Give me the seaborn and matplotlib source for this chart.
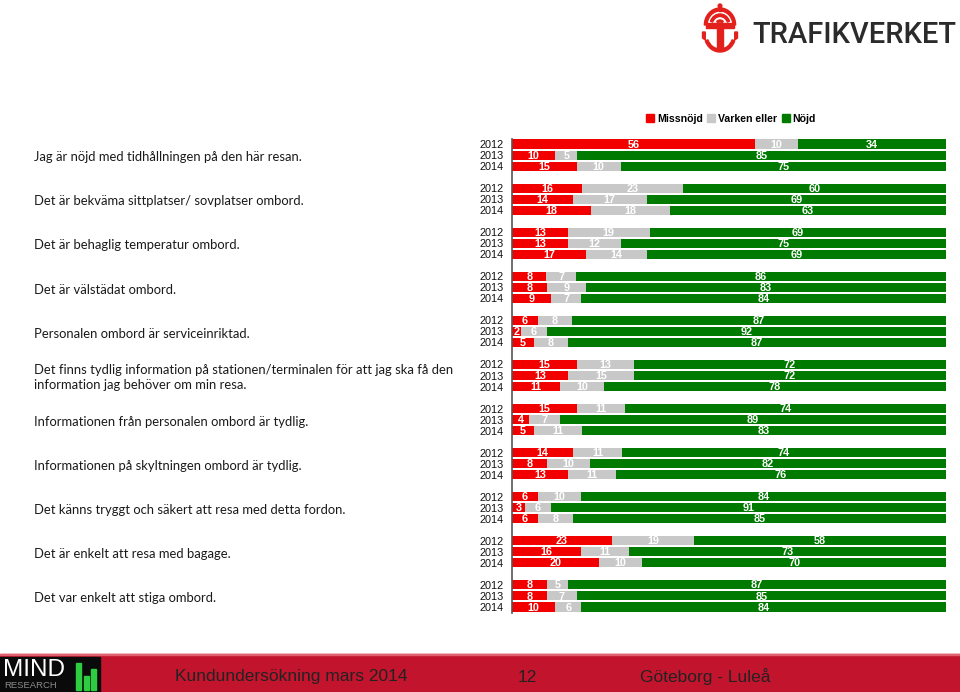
import numpy as np
import pandas as pd
import matplotlib
matplotlib.use("Agg")
import matplotlib.pyplot as plt
import matplotlib.transforms as mtransforms
from matplotlib.patches import Rectangle, Wedge, Polygon, Circle
import seaborn as sns

# ---------------- data ----------------
questions = [
    "Jag är nöjd med tidhållningen på den här resan.",
    "Det är bekväma sittplatser/ sovplatser ombord.",
    "Det är behaglig temperatur ombord.",
    "Det är välstädat ombord.",
    "Personalen ombord är serviceinriktad.",
    "Det finns tydlig information på stationen/terminalen för att jag ska få den\ninformation jag behöver om min resa.",
    "Informationen från personalen ombord är tydlig.",
    "Informationen på skyltningen ombord är tydlig.",
    "Det känns tryggt och säkert att resa med detta fordon.",
    "Det är enkelt att resa med bagage.",
    "Det var enkelt att stiga ombord.",
]
years = ["2012", "2013", "2014"]
series = ["Missnöjd", "Varken eller", "Nöjd"]

missnojd = [56, 10, 15,  16, 14, 18,  13, 13, 17,  8, 8, 9,  6, 2, 5,
            15, 13, 11,  15, 4, 5,  14, 8, 13,  6, 3, 6,  23, 16, 20,  8, 8, 10]
varken   = [10, 5, 10,  23, 17, 18,  19, 12, 14,  7, 9, 7,  8, 6, 8,
            13, 15, 10,  11, 7, 11,  11, 10, 11,  10, 6, 8,  19, 11, 10,  5, 7, 6]
nojd     = [34, 85, 75,  60, 69, 63,  69, 75, 69,  86, 83, 84,  87, 92, 87,
            72, 72, 78,  74, 89, 83,  74, 82, 76,  84, 91, 85,  58, 73, 70,  87, 85, 84]

RED = "#F20000"
GRAY = "#C8C8C8"
GREEN = "#007A00"
FOOT = "#C3142D"

# ---------------- frame ----------------
rows = []
order = []
for qi, q in enumerate(questions):
    for yi, yr in enumerate(years):
        k = qi * 3 + yi
        key = f"q{qi}_{yr}"
        order.append(key)
        tot = missnojd[k] + varken[k] + nojd[k]
        m = missnojd[k] / tot * 100
        v = varken[k] / tot * 100
        rows.append(dict(row=key, q=qi, year=yr,
                         m=missnojd[k], v=varken[k], n=nojd[k],
                         c1=m, c2=m + v, c3=100.0))
    if qi < len(questions) - 1:
        order.append(f"gap{qi}")
df = pd.DataFrame(rows)

# ---------------- figure ----------------
fig = plt.figure(figsize=(9.6, 6.92), dpi=100)
W, H = 960, 692
ax = fig.add_axes([512 / W, 1 - 612.5 / H, (946 - 512) / W, (612.5 - 138.5) / H])

bw = 0.82
sns.barplot(data=df, y="row", x="c3", order=order, color=GREEN, width=bw,
            orient="h", ax=ax, saturation=1, errorbar=None)
sns.barplot(data=df, y="row", x="c2", order=order, color=GRAY, width=bw,
            orient="h", ax=ax, saturation=1, errorbar=None)
sns.barplot(data=df, y="row", x="c1", order=order, color=RED, width=bw,
            orient="h", ax=ax, saturation=1, errorbar=None)
for p in ax.patches:
    p.set_linewidth(0)

ax.set_xlim(0, 100)
ax.set_ylim(len(order) - 0.5, -0.5)
ax.set_xlabel("")
ax.set_ylabel("")
ax.set_xticks([])
ax.set_yticks(range(len(order)))
ax.set_yticklabels([r.split("_")[1] if r.startswith("q") else "" for r in order],
                   fontfamily="Liberation Sans", fontsize=7.8, color="#111111")
ax.tick_params(axis="y", length=0, pad=6)
for s in ["top", "right", "bottom"]:
    ax.spines[s].set_visible(False)
ax.spines["left"].set_color("#555555")
ax.spines["left"].set_linewidth(1.2)
ax.set_facecolor("none")

# value labels
pos = {r: i for i, r in enumerate(order)}
for _, r in df.iterrows():
    yy = pos[r["row"]]
    segs = [(0, r["c1"], r["m"]), (r["c1"], r["c2"], r["v"]), (r["c2"], r["c3"], r["n"])]
    for a, b, val in segs:
        ax.text((a + b) / 2, yy + 0.05, f"{int(val)}", ha="center", va="center",
                color="white", fontsize=7.8, fontweight="bold",
                fontfamily="Liberation Sans")

# question labels
tr = mtransforms.blended_transform_factory(fig.transFigure, ax.transData)
for qi, q in enumerate(questions):
    ax.text(34 / W, qi * 4 + 1.2, q, transform=tr, ha="left", va="center",
            fontsize=9.4, fontfamily="Lato", color="#1a1a1a", linespacing=1.35,
            clip_on=False)

# legend
handles = [Rectangle((0, 0), 1, 1, color=c) for c in (RED, GRAY, GREEN)]
fig.legend(handles, series, loc="center", bbox_to_anchor=(731 / W, 1 - 119 / H),
           ncol=3, frameon=False, handlelength=0.75, handleheight=0.75,
           handletextpad=0.25, columnspacing=0.45,
           prop=dict(family="Liberation Sans", size=7.6, weight="bold"))

# ---------------- footer ----------------
fig.patches.append(Rectangle((0, 0), 1, 1 - 654 / H, transform=fig.transFigure,
                             color=FOOT, zorder=0))
fig.patches.append(Rectangle((0, 1 - 655 / H), 1, 1.5 / H, transform=fig.transFigure,
                             color="#E06070", zorder=1))
fig.text(175 / W, 1 - 677 / H, "Kundundersökning mars 2014", fontsize=12.5,
         fontfamily="Liberation Sans", color="#222222", va="center", ha="left")
fig.text(527 / W, 1 - 677 / H, "12", fontsize=12.5, fontfamily="Liberation Sans",
         color="#222222", va="center", ha="center")
fig.text(640 / W, 1 - 677 / H, "Göteborg - Luleå", fontsize=12.5,
         fontfamily="Liberation Sans", color="#222222", va="center", ha="left")

# MIND research logo
fig.patches.append(Rectangle((0, 0), 100 / W, 1 - 657 / H, transform=fig.transFigure,
                             color="#0A0A0A", zorder=2))
fig.text(3 / W, 1 - 670 / H, "MIND", fontsize=17.5, fontfamily="Liberation Sans",
         color="white", va="center", ha="left", zorder=3)
fig.text(4 / W, 1 - 686 / H, "RESEARCH", fontsize=6.8, fontfamily="Liberation Sans",
         color="#8a8a8a", va="center", ha="left", zorder=3)
for bx, btop in [(76, 663), (84, 676), (91, 669)]:
    fig.patches.append(Rectangle((bx / W, 1 - 690 / H), 5 / W, (690 - btop) / H,
                                 transform=fig.transFigure, color="#2ECC40", zorder=3))

# ---------------- Trafikverket logo ----------------
lax = fig.add_axes([697 / W, 1 - 55 / H, 46 / W, 52 / H])
lax.set_xlim(0, 50)
lax.set_ylim(0, 52)
lax.axis("off")
LR = "#E2201C"
lax.add_patch(Wedge((25, 30), 17, 0, 180, width=3, color=LR))
lax.add_patch(Wedge((25, 30), 11, 20, 160, width=2.5, color=LR))
lax.add_patch(Wedge((25, 30), 5, 45, 135, width=2, color=LR))
lax.add_patch(Circle((25, 49), 2, color=LR))
lax.add_patch(Rectangle((24, 44), 2, 4, color=LR))
lax.add_patch(Rectangle((10, 27), 30, 5, color=LR))
lax.add_patch(Rectangle((22, 6), 6, 22, color=LR))
lax.add_patch(Wedge((25, 20), 17, 200, 340, width=3, color=LR))
lax.add_patch(Polygon([[6, 23], [9, 23], [9, 15], [6, 17]], color=LR))
lax.add_patch(Polygon([[44, 23], [41, 23], [41, 15], [44, 17]], color=LR))

fig.text(752 / W, 1 - 35 / H, "TRAFIKVERKET", fontsize=21, fontfamily="Roboto",
         fontweight="medium", color="#2B2B2B", va="center", ha="left")

fig.savefig("out.png", dpi=100, facecolor="white")
